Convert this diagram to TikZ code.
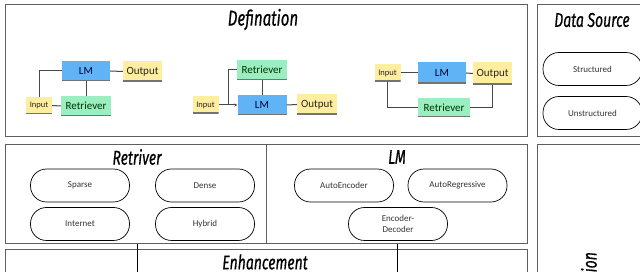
\documentclass[tikz,border=0pt]{standalone}
\usepackage{fontspec}
\usetikzlibrary{arrows.meta}
\setmainfont{Carlito}
\newfontfamily\headfont[FakeStretch=0.7,FakeBold=0.6]{Fira Sans}

\definecolor{lmblue}{RGB}{96,180,246}
\definecolor{retgreen}{RGB}{154,238,192}
\definecolor{ioyellow}{RGB}{255,238,160}
\definecolor{framegray}{RGB}{95,95,95}
\definecolor{wiregray}{RGB}{72,72,72}

\tikzset{
  frame/.style={draw=framegray, line width=1pt},
  heading/.style={font=\headfont\itshape\fontsize{20}{20}\selectfont, inner sep=0pt},
  pill/.style={draw, line width=0.7pt, rounded corners=16pt, minimum width=99pt,
    minimum height=33pt, inner sep=0pt, align=center, text=black!80,
    font=\fontsize{9}{11}\selectfont},
  cbox/.style={inner sep=0pt, font=\fontsize{11}{11}\selectfont,
    path picture={\draw[black!55, line width=2pt]
      (path picture bounding box.south west) -- (path picture bounding box.south east);}},
  lmbox/.style={cbox, fill=lmblue, text=black!80!blue, minimum width=48pt, minimum height=20pt},
  retbox/.style={cbox, fill=retgreen, text=black!80!green, minimum width=50pt, minimum height=20pt},
  outbox/.style={cbox, fill=ioyellow, text=black!85, minimum width=39pt, minimum height=20pt},
  inbox/.style={cbox, fill=ioyellow, text=black!85, minimum width=26pt, minimum height=17pt,
    font=\fontsize{8.5}{9}\selectfont},
  wire/.style={draw=wiregray, line width=1pt},
}

\begin{document}
\begin{tikzpicture}[x=1pt,y=1pt,yscale=-1]
\useasboundingbox (0,0) rectangle (640,272);
\clip (0,0) rectangle (640,272);

% outer frames
\draw[frame] (5,5) rectangle (527,137);
\draw[frame] (537,5) rectangle (650,137);
\draw[frame] (5,145) rectangle (527,244);
\draw[frame] (266,145) -- (266,244);
\draw[frame] (537,145) rectangle (650,290);
\draw[frame] (5,250) rectangle (527,290);

% headings
\node[heading, font=\headfont\itshape\fontsize{21.5}{21}\selectfont] (defhead) at (263,19.5) {Defination};
\node[heading] (srchead) at (592,20) {Data Source};
\node[heading] (rethead) at (137,157) {Retriver};
\node[heading] (lmhead) at (397,157) {LM};
\node[heading] (enhhead) at (265,262) {Enhancement};
\node[heading, rotate=90, anchor=east] (apphead) at (591,252) {Application};

% data source
\node[pill] (structured) at (592.5,69) {Structured};
\node[pill] (unstructured) at (592.5,113) {Unstructured};

% retriever kinds
\node[pill] (sparse) at (80,185.5) {Sparse};
\node[pill] (dense) at (205,185.5) {Dense};
\node[pill] (internet) at (80,224) {Internet};
\node[pill] (hybrid) at (205,224) {Hybrid};

% language model kinds
\node[pill] (autoenc) at (344,185.5) {AutoEncoder};
\node[pill] (autoreg) at (457.5,185.5) {AutoRegressive};
\node[pill] (encdec) at (398,224) {Encoder-\\Decoder};

% links down to enhancement
\coordinate (retdrop) at (137,244);
\coordinate (retend) at (137,272);
\coordinate (lmdrop) at (397,244);
\coordinate (lmend) at (397,272);
\draw[line width=1pt] (retdrop) -- (retend);
\draw[line width=1pt] (lmdrop) -- (lmend);

% first variant
\node[lmbox] (lma) at (86,71) {LM};
\node[outbox] (outa) at (142.5,71.5) {Output};
\node[inbox] (ina) at (39,105.5) {Input};
\node[retbox] (reta) at (86,106) {Retriever};
\draw[wire] (lma.east) -- (outa.west);
\draw[wire] (lma.west) -| (ina.north);
\draw[wire] (lma.south) -- (reta.north);
\draw[wire] (ina.east) -- (reta.west);

% second variant
\node[retbox] (retb) at (262,70) {Retriever};
\node[lmbox, minimum width=49pt] (lmb) at (262,105) {LM};
\node[inbox] (inb) at (205.5,105) {Input};
\node[outbox, minimum width=40pt] (outb) at (317,104.5) {Output};
\coordinate (forkb) at (228,105);
\draw[wire, -{Stealth[length=3pt,width=3pt]}] (inb.east) -- (lmb.west);
\draw[wire] (forkb) |- (retb.west);
\draw[wire] (retb.south) -- (lmb.north);
\draw[wire] (lmb.east) -- (outb.west);

% third variant
\node[inbox] (inc) at (387.5,73) {Input};
\node[lmbox, minimum height=21pt] (lmc) at (442,73) {LM};
\node[outbox, minimum height=22pt] (outc) at (492.5,73.5) {Output};
\node[retbox, minimum width=52pt, minimum height=19pt] (retc) at (444,107.5) {Retriever};
\draw[wire] (inc.east) -- (lmc.west);
\draw[wire] (inc.south) |- (retc.west);
\draw[wire] (lmc.east) -- (outc.west);
\draw[wire] (retc.east) -| (outc.south);
\end{tikzpicture}
\end{document}
